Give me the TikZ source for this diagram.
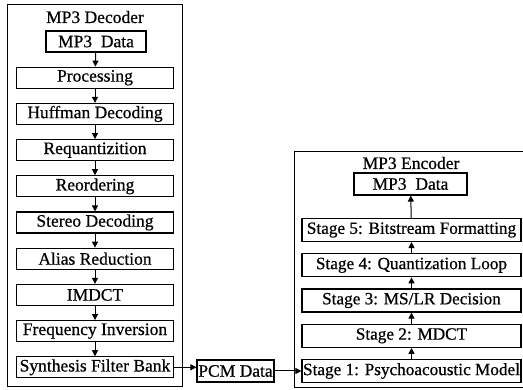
\documentclass[tikz,border=0pt]{standalone}
\usepackage{fontspec}
\setmainfont{Liberation Serif}[FakeBold=0.6]
\usetikzlibrary{arrows.meta}
\begin{document}
\begin{tikzpicture}[x=1pt,y=-1pt,
  box/.style={draw,line width=1.1pt,inner sep=0pt,minimum height=21pt,
    font=\fontsize{17.5}{19}\selectfont},
  decbox/.style={box,minimum width=157pt},
  encbox/.style={box,minimum width=219pt,minimum height=23pt,
    font=\fontsize{17.2}{19}\selectfont},
  title/.style={inner sep=0pt,font=\fontsize{17.5}{19}\selectfont},
  outer/.style={draw,line width=1pt},
  arr/.style={line width=1pt,-{Triangle[length=6pt,width=6pt]}}]
\clip (0,0) rectangle (523,390);
\fill[white] (0,0) rectangle (523,390);
% Decoder
\draw[outer] (7,5) rectangle (182,387);
\node[title] (dt) at (95,17) {MP3 Decoder};
\node[box,minimum width=100pt] (d0) at (96,41.5) {MP3\ \ Data};
\node[decbox] (d1) at (95,77.7) {Processing};
\node[decbox] (d2) at (95,113.9) {Huffman Decoding};
\node[decbox] (d3) at (95,150.1) {Requantizition};
\node[decbox] (d4) at (95,186.3) {Reordering};
\node[decbox] (d5) at (95,222.5) {Stereo Decoding};
\node[decbox] (d6) at (95,258.7) {Alias Reduction};
\node[decbox] (d7) at (95,294.9) {IMDCT};
\node[decbox] (d8) at (95,331.1) {Frequency Inversion};
\node[decbox] (d9) at (95,367.3) {Synthesis Filter Bank};
\foreach \a/\b in {d0/d1,d1/d2,d2/d3,d3/d4,d4/d5,d5/d6,d6/d7,d7/d8,d8/d9}
  \draw[arr] (\a) -- (\b);
% PCM
\node[box,minimum width=77pt,minimum height=22pt] (pcm) at (235.5,371) {PCM Data};
% Encoder
\draw[outer] (524,152) -- (294,152) -- (294,388) -- (524,388);
\node[title] (et) at (411,163) {MP3 Encoder};
\node[box,minimum width=113pt,minimum height=22pt] (e0) at (410.5,184) {MP3\ \ Data};
\node[encbox] (e5) at (411.5,230) {Stage 5: Bitstream Formatting};
\node[encbox] (e4) at (411.5,265.3) {Stage 4: Quantization Loop};
\node[encbox] (e3) at (411.5,300.5) {Stage 3: MS/LR Decision};
\node[encbox] (e2) at (411.5,335.8) {Stage 2: MDCT};
\node[encbox] (e1) at (411.5,371) {Stage 1: Psychoacoustic Model};
\foreach \a/\b in {e1/e2,e2/e3,e3/e4,e4/e5,e5/e0}
  \draw[arr] (\a) -- (\b);
\draw[arr] (d9.east) -- (d9.east -| pcm.west);
\draw[arr] (pcm.east) -- (pcm.east -| e1.west);
\end{tikzpicture}
\end{document}
